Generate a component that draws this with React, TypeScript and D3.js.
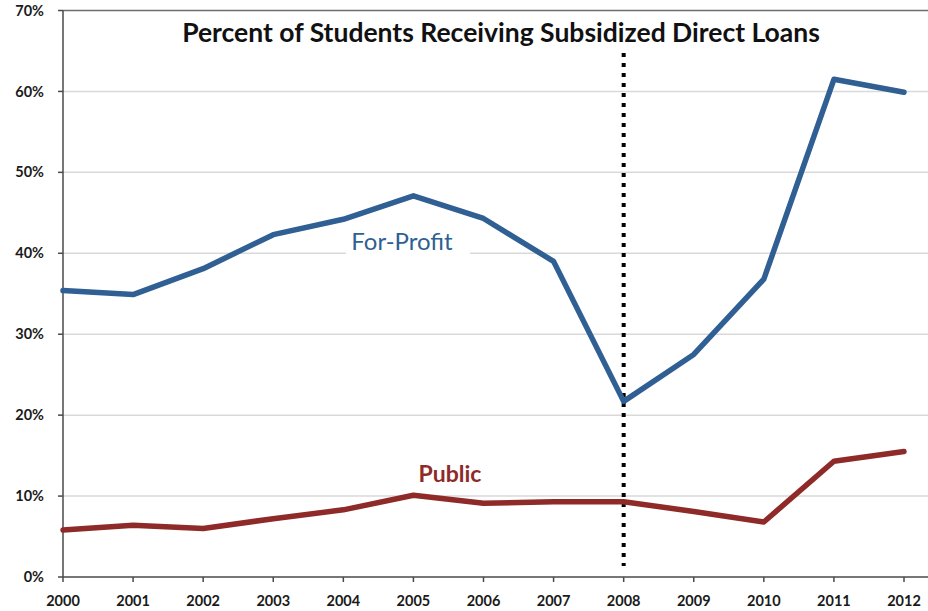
import React from "react";
import * as d3 from "d3";

const years = [2000, 2001, 2002, 2003, 2004, 2005, 2006, 2007, 2008, 2009, 2010, 2011, 2012];
const forProfit = [35.4, 34.9, 38.1, 42.3, 44.2, 47.1, 44.3, 39.0, 21.7, 27.5, 36.8, 61.5, 59.9];
const publicVals = [5.8, 6.4, 6.0, 7.2, 8.3, 10.1, 9.1, 9.3, 9.3, 8.1, 6.8, 14.3, 15.5];
const yTicks = [0, 10, 20, 30, 40, 50, 60, 70];
const title = "Percent of Students Receiving Subsidized Direct Loans";
const markerYear = 2008;

const W = 928;
const H = 611;
const left = 63;
const right = 928;
const top = 10.5;
const bottom = 577;

export default function App() {
  const x = d3.scaleLinear().domain([2000, 2012]).range([left, 904]);
  const y = d3.scaleLinear().domain([0, 70]).range([bottom, top]);
  const line = d3
    .line<number>()
    .x((_, i) => x(years[i]))
    .y((d) => y(d));
  const font = "Lato, Carlito, 'Noto Sans', sans-serif";

  return (
    <svg
      width={W}
      height={H}
      style={{ position: "absolute", left: 0, top: 0, background: "#fff" }}
      fontFamily={font}
    >
      {yTicks.map((t) =>
        t === 0 ? null : (
          <line
            key={t}
            x1={left}
            x2={right}
            y1={y(t)}
            y2={y(t)}
            stroke={t === 70 ? "#6e6e6e" : "#d9d9d9"}
            strokeWidth={1.5}
          />
        )
      )}
      <line x1={left} x2={left} y1={top} y2={bottom} stroke="#4a4a4a" strokeWidth={1.5} />
      <line x1={left} x2={right} y1={bottom} y2={bottom} stroke="#4a4a4a" strokeWidth={1.5} />
      {yTicks.map((t) => (
        <g key={"yt" + t}>
          <line x1={left - 5} x2={left} y1={y(t)} y2={y(t)} stroke="#4a4a4a" strokeWidth={1.5} />
          <text
            x={44}
            y={y(t)}
            dy="0.35em"
            textAnchor="end"
            fontSize={14.5}
            fontWeight="bold"
            fill="#1a1a1a"
          >
            {t + "%"}
          </text>
        </g>
      ))}
      {years.map((yr) => (
        <g key={"xt" + yr}>
          <line x1={x(yr)} x2={x(yr)} y1={bottom} y2={bottom + 5} stroke="#4a4a4a" strokeWidth={1.5} />
          <text x={x(yr)} y={606} textAnchor="middle" fontSize={14.5} fontWeight="bold" fill="#1a1a1a">
            {yr}
          </text>
        </g>
      ))}
      <text x={501} y={42} textAnchor="middle" fontSize={26.5} fontWeight="bold" fill="#111">
        {title}
      </text>
      <line
        x1={x(markerYear)}
        x2={x(markerYear)}
        y1={53}
        y2={566}
        stroke="#000"
        strokeWidth={4}
        strokeDasharray="4 6"
      />
      <path d={line(forProfit) || ""} fill="none" stroke="#2f5f93" strokeWidth={5.5} strokeLinejoin="round" strokeLinecap="round" />
      <path d={line(publicVals) || ""} fill="none" stroke="#8e2a28" strokeWidth={5.5} strokeLinejoin="round" strokeLinecap="round" />
      <rect x={346} y={228} width={124} height={30} fill="#fff" />
      <text x={402} y={250} textAnchor="middle" fontSize={24} fill="#2f5f93">
        For-Profit
      </text>
      <text x={450} y={482} textAnchor="middle" fontSize={23} fontWeight="bold" fill="#8e2a28">
        Public
      </text>
    </svg>
  );
}
